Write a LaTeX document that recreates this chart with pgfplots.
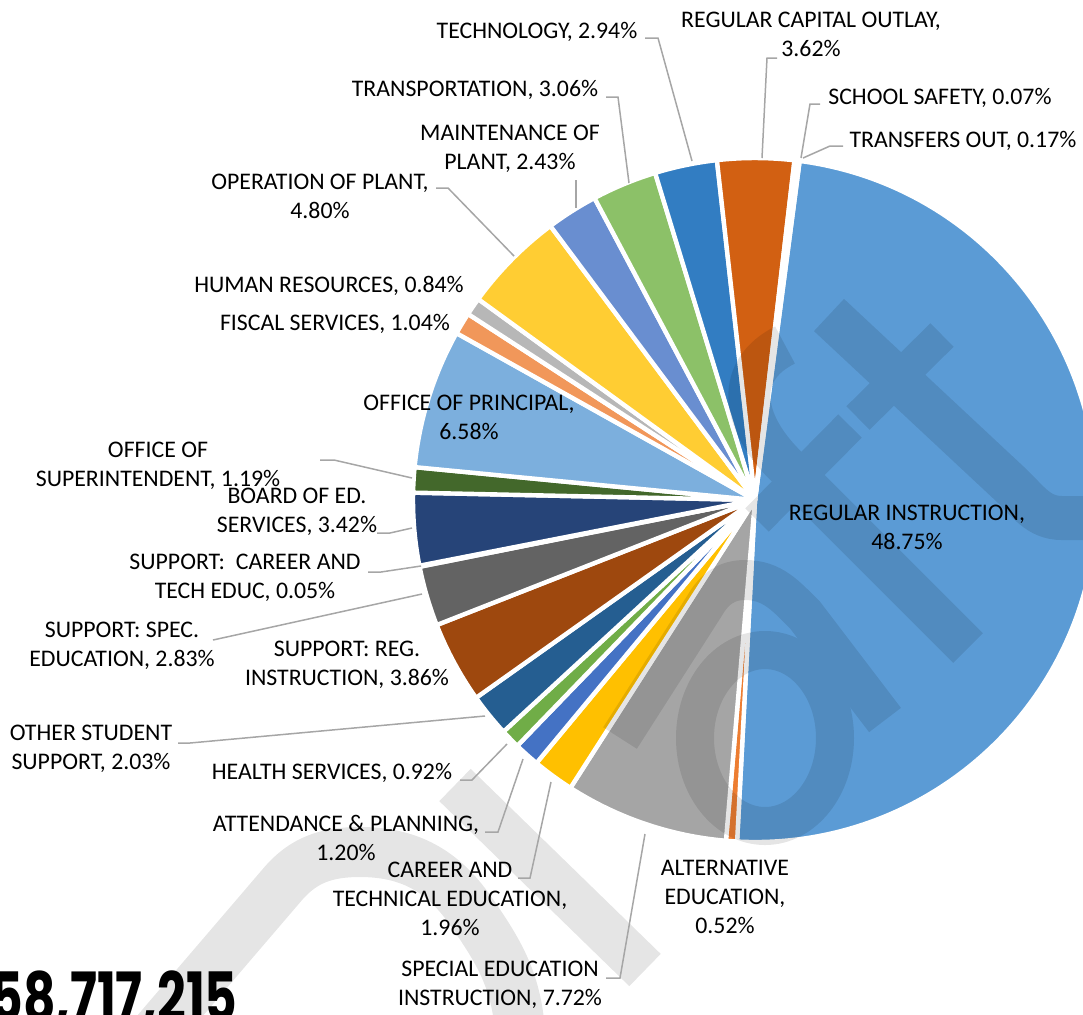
\documentclass[border=0pt]{standalone}
\usepackage{fontspec}
\setmainfont{Carlito}
\newfontfamily\bignum{Poppins}
\usepackage{pgfplots}
\pgfplotsset{compat=1.18}
\definecolor{cRI}{HTML}{5B9BD5}
\definecolor{cAlt}{HTML}{ED7D31}
\definecolor{cSpec}{HTML}{A5A5A5}
\definecolor{cCTE}{HTML}{FFC000}
\definecolor{cAtt}{HTML}{4472C4}
\definecolor{cHealth}{HTML}{70AD47}
\definecolor{cOther}{HTML}{255E91}
\definecolor{cSReg}{HTML}{9E480E}
\definecolor{cSSpec}{HTML}{636363}
\definecolor{cSCar}{HTML}{997300}
\definecolor{cBoard}{HTML}{264478}
\definecolor{cSup}{HTML}{43682B}
\definecolor{cPrin}{HTML}{7CAFDD}
\definecolor{cFisc}{HTML}{F1975A}
\definecolor{cHR}{HTML}{B7B7B7}
\definecolor{cOper}{HTML}{FFCD33}
\definecolor{cMaint}{HTML}{698ED0}
\definecolor{cTrans}{HTML}{8CC168}
\definecolor{cTech}{HTML}{327DC2}
\definecolor{cCap}{HTML}{D26012}
\definecolor{cSafe}{HTML}{848484}
\definecolor{cOut}{HTML}{CC9A00}
\definecolor{leadc}{HTML}{A6A6A6}
\newcommand\lab{\fontsize{11.9}{14.4}\selectfont}
\begin{document}
\begin{tikzpicture}
\path[use as bounding box, clip] (0,0) rectangle (541.5pt,507pt);
\begin{axis}[at={(0pt,0pt)}, anchor=south west, scale only axis,
  width=541.5pt, height=507pt, xmin=0, xmax=1083, ymin=0, ymax=1014,
  y dir=reverse, hide axis, clip=false]
\pgfplotsextra{
  % ---- pie slices (percentages) ----
  \gdef\cum{82.5}
  \foreach \v/\c in {48.75/cRI, 0.52/cAlt, 7.72/cSpec, 1.96/cCTE, 1.20/cAtt,
     0.92/cHealth, 2.03/cOther, 3.86/cSReg, 2.83/cSSpec, 0.05/cSCar,
     3.42/cBoard, 1.19/cSup, 6.58/cPrin, 1.04/cFisc, 0.84/cHR, 4.80/cOper,
     2.43/cMaint, 3.06/cTrans, 2.94/cTech, 3.62/cCap, 0.07/cSafe, 0.17/cOut} {
    \pgfmathsetmacro\e{\cum-3.6*\v}
    \fill[\c, draw=white, line width=2.2pt, line join=round]
      (axis cs:755,500) -- ++(\cum:171pt) arc[start angle=\cum, end angle=\e, radius=171pt] -- cycle;
    \xdef\cum{\e}
  }
  % ---- watermark ----
  \begin{scope}[transparency group, opacity=0.1]
    \draw[black, line width=25pt] (145,1045) -- (282,885) to[out=50,in=180] (360,852)
         to[out=0,in=125] (470,910) to[out=-55,in=95] (520,1030);
    \draw[black, line width=22.5pt] (455,785) -- (645,970);
    \draw[black, line width=20pt] (620,738) -- (705,605) to[out=60,in=180] (745,580)
         to[out=0,in=135] (805,615) -- (885,720);
    \draw[black, line width=19pt] (765,738) ellipse [x radius=35pt, y radius=44pt];
    \draw[black, line width=22pt] (829,315) -- (1010,484) to[out=-43,in=180] (1062,518) -- (1100,518);
    \draw[black, line width=16.5pt] (858,418) -- (942,335);
    \draw[black, line width=16.5pt] (850,426) -- (757,520);
    \draw[black, line width=21pt] (968,648) -- (785,465) .. controls (740,420) and (735,370) .. (785,345);
  \end{scope}
  % ---- leader lines ----
  \begin{scope}[leadc, line width=0.75pt]
    \draw (645,38) -- (658,38) -- (692,161);
    \draw (777,58) -- (767,58) -- (762,158);
    \draw (820,104) -- (810,104) -- (801,158);
    \draw (843,146) -- (830,146) -- (803,158);
    \draw (606,97) -- (618,97) -- (629,183);
    \draw (576,180) -- (576,208);
    \draw (436,188) -- (448,188) -- (514,256);
    \draw (320,460) -- (334,460) -- (412,478);
    \draw (377,533) -- (390,533) -- (412,528);
    \draw (368,572) -- (381,572) -- (421,566);
    \draw (213,640) -- (422,594);
    \draw (178,743) -- (190,743) -- (485,716);
    \draw (460,780) -- (472,780) -- (507,744);
    \draw (485,832) -- (498,832) -- (523,759);
    \draw (518,878) -- (530,878) -- (551,782);
    \draw (606,978) -- (620,978) -- (645,834);
  \end{scope}
  % ---- labels ----
  \begin{scope}[every node/.style={font=\lab, align=center, text=black, inner sep=0pt}]
    \node at (537,32) {TECHNOLOGY, 2.94\%};
    \node at (811,34) {REGULAR CAPITAL OUTLAY,\\3.62\%};
    \node at (940,98) {SCHOOL SAFETY, 0.07\%};
    \node at (963,141) {TRANSFERS OUT, 0.17\%};
    \node at (475,90) {TRANSPORTATION, 3.06\%};
    \node at (510,149) {MAINTENANCE OF\\PLANT, 2.43\%};
    \node at (320,196) {OPERATION OF PLANT,\\4.80\%};
    \node at (329,286) {HUMAN RESOURCES, 0.84\%};
    \node at (335,324) {FISCAL SERVICES, 1.04\%};
    \node at (469,417) {OFFICE OF PRINCIPAL,\\6.58\%};
    \node at (158,466) {OFFICE OF\\SUPERINTENDENT, 1.19\%};
    \node at (297,512) {BOARD OF ED.\\SERVICES, 3.42\%};
    \node at (245,578) {SUPPORT:\ \ CAREER AND\\TECH EDUC, 0.05\%};
    \node at (122,646) {SUPPORT: SPEC.\\EDUCATION, 2.83\%};
    \node at (347,665) {SUPPORT: REG.\\INSTRUCTION, 3.86\%};
    \node at (91,749) {OTHER STUDENT\\SUPPORT, 2.03\%};
    \node at (332,773) {HEALTH SERVICES, 0.92\%};
    \node at (346,838) {ATTENDANCE \& PLANNING,\\1.20\%};
    \node at (450,899) {CAREER AND\\TECHNICAL EDUCATION,\\1.96\%};
    \node at (500,985) {SPECIAL EDUCATION\\INSTRUCTION, 7.72\%};
    \node at (725,897) {ALTERNATIVE\\EDUCATION,\\0.52\%};
    \node at (907,527) {REGULAR INSTRUCTION,\\48.75\%};
  \end{scope}
  \node[anchor=base east, inner sep=0pt, xscale=0.74,
        font=\bignum\bfseries\fontsize{34}{34}\selectfont] at (238,1021) {\$58,717,215};
}
\end{axis}
\end{tikzpicture}
\end{document}
